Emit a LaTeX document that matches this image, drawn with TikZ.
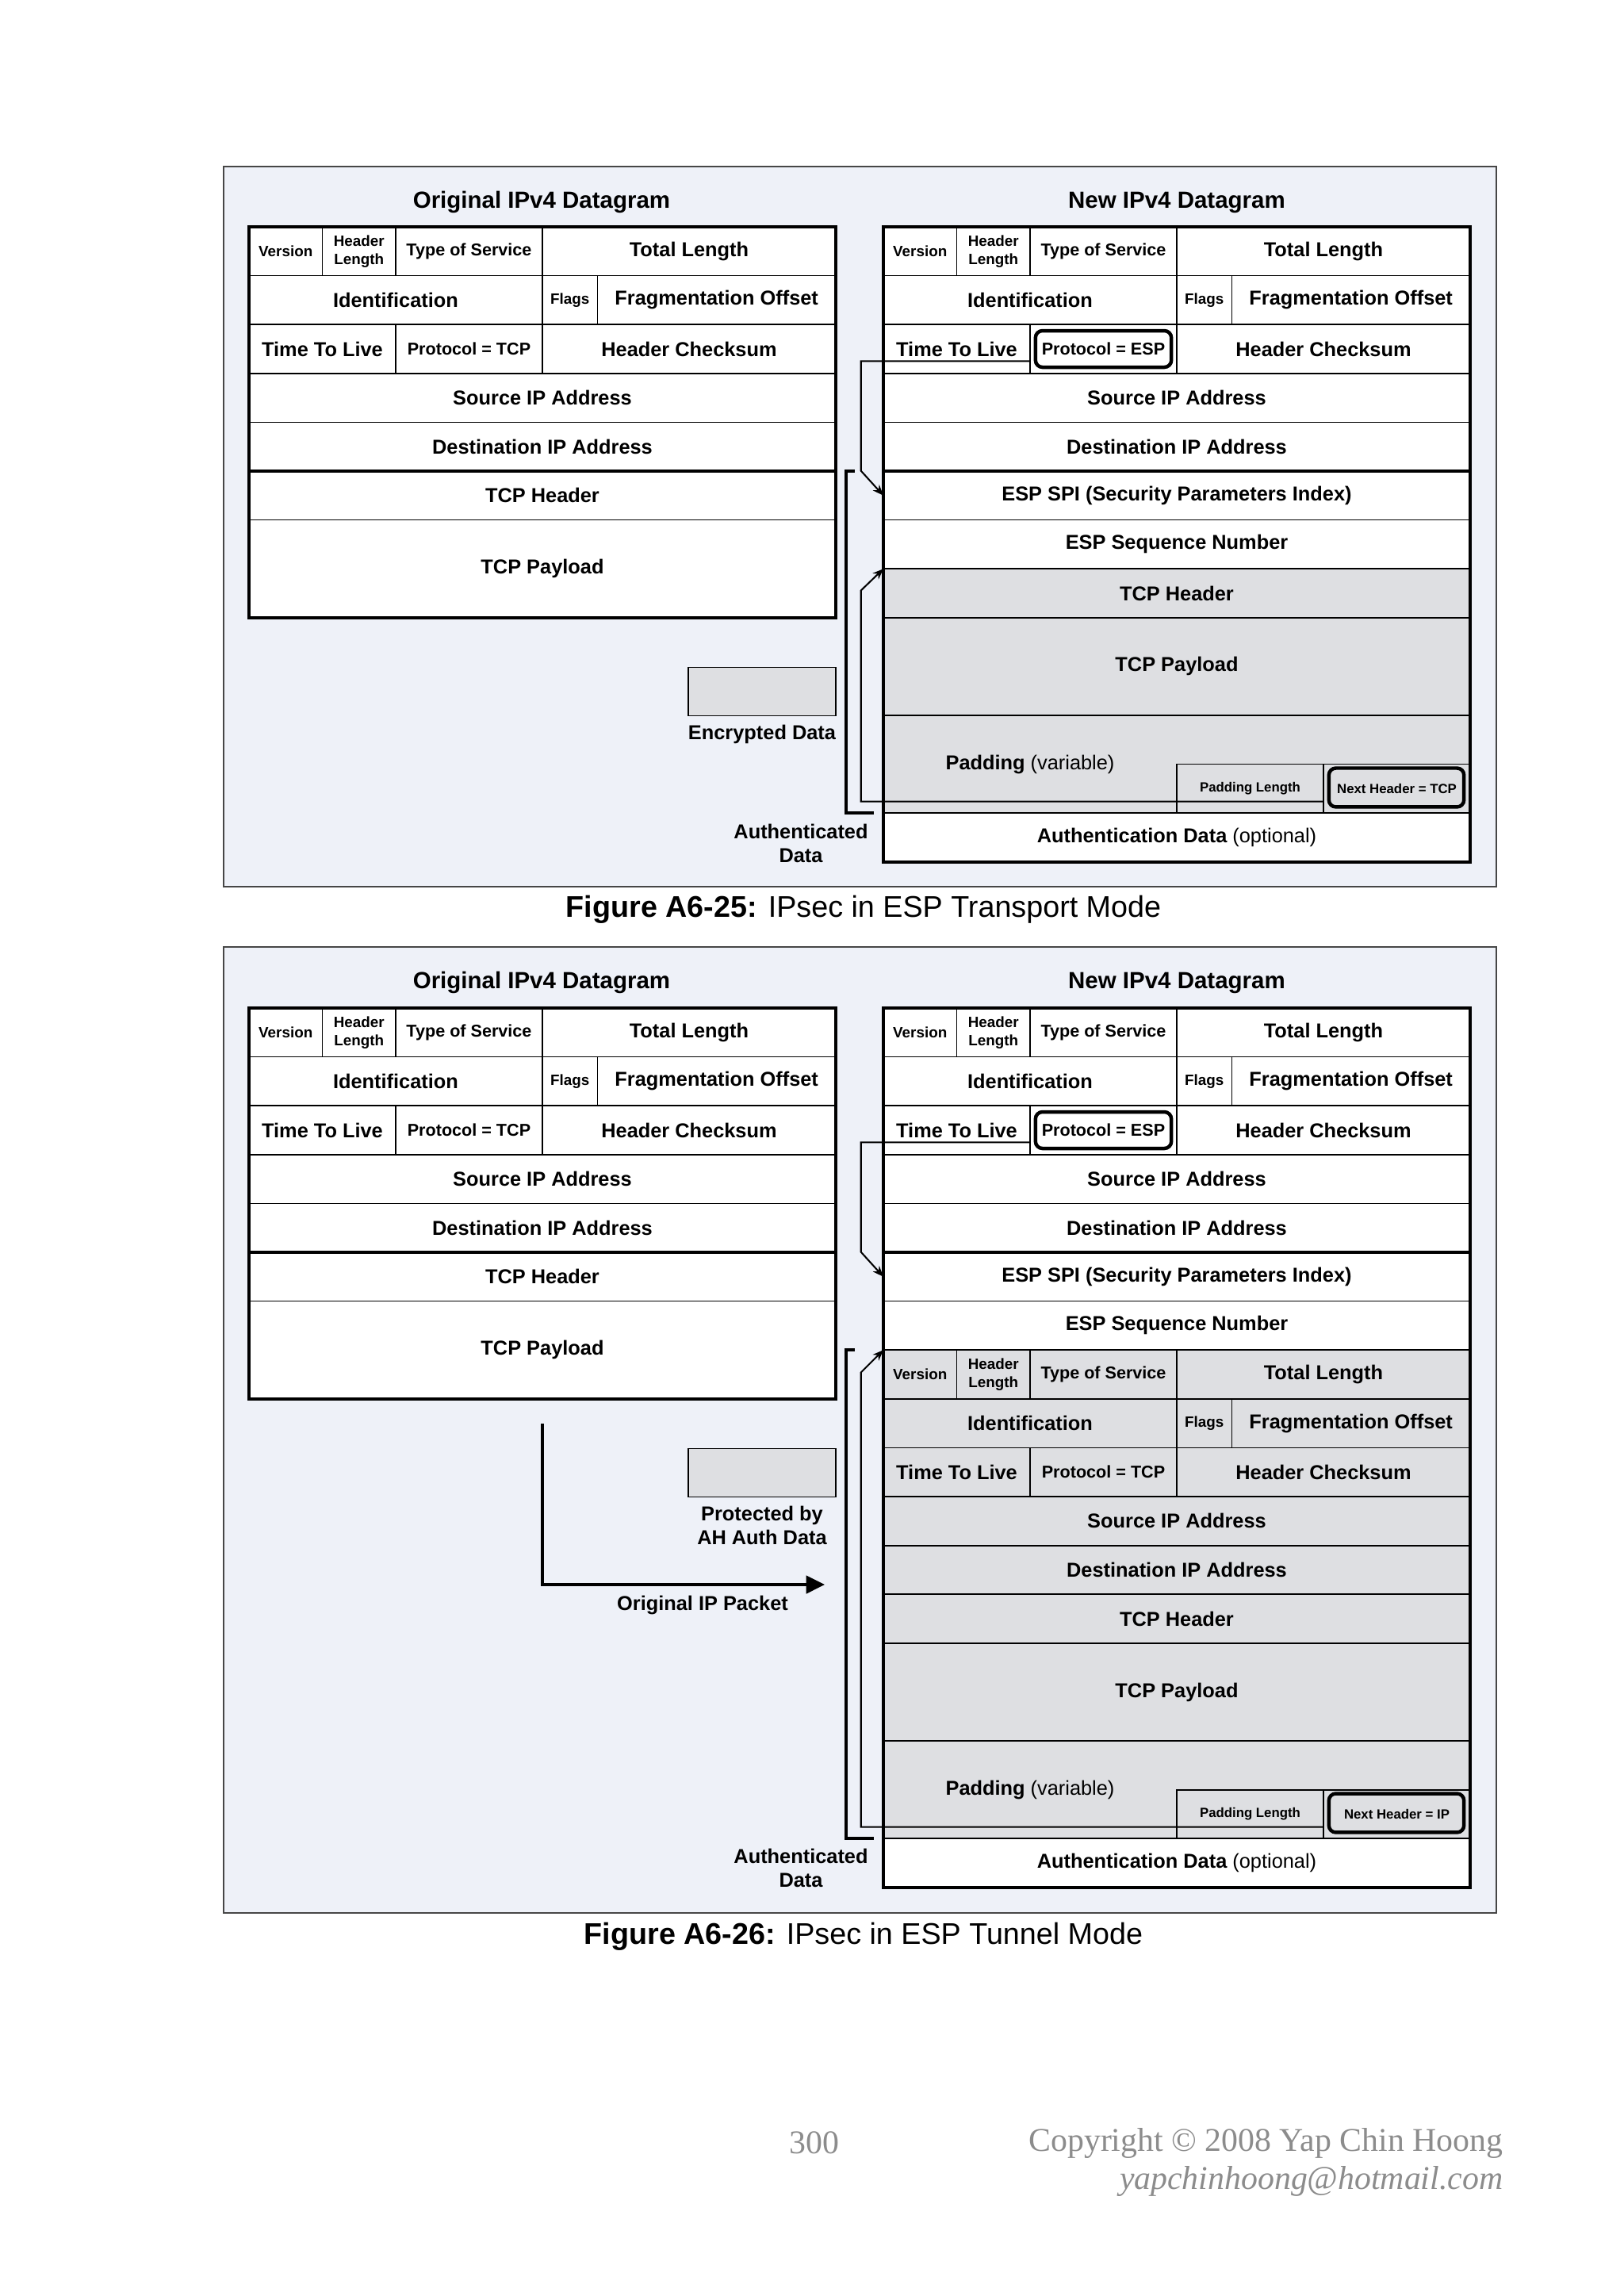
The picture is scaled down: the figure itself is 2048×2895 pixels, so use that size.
\documentclass[tikz,border=0pt]{standalone}
\usepackage{fontspec}
\setmainfont{Liberation Sans}
\newfontfamily\footfont{Liberation Serif}
\usetikzlibrary{arrows.meta,positioning,calc}

\definecolor{panelbg}{RGB}{238,241,248}
\definecolor{encgray}{RGB}{222,223,226}
\definecolor{footgray}{RGB}{140,140,140}
\definecolor{rulegray}{RGB}{70,70,70}

% one bit and one row of a header table
\newcommand{\bw}{2.3712mm}
\newcommand{\rh}{6.3165mm}

% field: [style]{name}{bit}{row}{bits}{rows}{text}
\newcommand{\fld}[7][]{\node[cell,#1,minimum width=#5*\bw,minimum height=#6*\rh] (#2) at (#3,#4) {#7};}

% IPv4 header: {prefix}{first row}{style}{protocol text}
\newcommand{\iphdr}[4]{%
  \fld[small,#3]{#1ver}{0}{#2}{4}{1}{Version}
  \fld[small,#3]{#1hl}{4}{#2}{4}{1}{Header\\Length}
  \fld[mid,#3]{#1tos}{8}{#2}{8}{1}{Type of Service}
  \fld[#3]{#1len}{16}{#2}{16}{1}{Total Length}
  \fld[#3]{#1id}{0}{#2+1}{16}{1}{Identification}
  \fld[small,#3]{#1flg}{16}{#2+1}{3}{1}{Flags}
  \fld[#3]{#1frag}{19}{#2+1}{13}{1}{Fragmentation Offset}
  \fld[#3]{#1ttl}{0}{#2+2}{8}{1}{Time To Live}
  \fld[mid,#3]{#1prot}{8}{#2+2}{8}{1}{#4}
  \fld[#3]{#1sum}{16}{#2+2}{16}{1}{Header Checksum}
  \fld[#3]{#1src}{0}{#2+3}{32}{1}{Source IP Address}
  \fld[#3]{#1dst}{0}{#2+4}{32}{1}{Destination IP Address}}

\begin{document}
\begin{tikzpicture}[
        x=0.10254mm, y=-0.10254mm,
        cell/.style={draw, fill=white, line width=0.5pt, inner sep=0pt, outer sep=0pt, anchor=north west, align=center, font=\fontsize{7.4}{8.8}\selectfont\bfseries},
        small/.style={font=\fontsize{5.5}{6.7}\selectfont\bfseries},
        mid/.style={font=\fontsize{6.3}{7.5}\selectfont\bfseries},
        tiny/.style={font=\fontsize{4.9}{5.9}\selectfont\bfseries},
        grayed/.style={fill=encgray},
        lbl/.style={inner sep=0pt, align=center, font=\fontsize{7.4}{8.8}\selectfont\bfseries},
        ttl/.style={inner sep=0pt, font=\fontsize{8.6}{10}\selectfont\bfseries},
        figcap/.style={inner sep=0pt, font=\fontsize{11}{13}\selectfont},
        legbox/.style={draw, line width=0.5pt, fill=encgray, minimum width=19.1mm, minimum height=6.25mm, inner sep=0pt},
        panel/.style={draw=rulegray, line width=0.5pt, fill=panelbg},
        thickrule/.style={line width=1.2pt},
        hilite/.style={line width=1.3pt, rounded corners=0.9mm},
        ptr/.style={-{Stealth[length=1.4mm,width=1.1mm]}, line width=0.6pt},
        authbrk/.style={line width=1.2pt},
        bigarr/.style={-{Triangle[length=2.4mm,width=2.3mm]}, line width=1pt},
        foot/.style={inner sep=0pt, text=footgray, font=\footfont\fontsize{12.2}{14}\selectfont}
    ]
    \useasboundingbox[fill=white] (0,0) rectangle (2048,2895);

    % ---------------- Figure A6-25: transport mode ----------------
    \draw[panel] (282,210) rectangle (1887,1118);
    \node[ttl] (totitle) at (683,255) {Original IPv4 Datagram};
    \node[ttl] (tntitle) at (1484,255) {New IPv4 Datagram};

    % original datagram
    \begin{scope}[shift={(314,286)}, x=\bw, y=-\rh]
        \iphdr{to}{0}{}{Protocol = TCP}
        \fld{totcp}{0}{5}{32}{1}{TCP Header}
        \fld{topay}{0}{6}{32}{2}{TCP Payload}
    \end{scope}
    \draw[thickrule] (tover.north west) rectangle (topay.south east);
    \draw[thickrule] (totcp.north west) -- (totcp.north east);

    % new datagram
    \begin{scope}[shift={(1114,286)}, x=\bw, y=-\rh]
        \iphdr{tn}{0}{}{Protocol = ESP}
        \fld{tnspi}{0}{5}{32}{1}{ESP SPI (Security Parameters Index)}
        \fld{tnseq}{0}{6}{32}{1}{ESP Sequence Number}
        \fld[grayed]{tntcp}{0}{7}{32}{1}{TCP Header}
        \fld[grayed]{tnpay}{0}{8}{32}{2}{TCP Payload}
        \fld[grayed]{tnpad}{0}{10}{32}{2}{}
        \node[lbl] (tnpadtxt) at (8,11) {Padding {\mdseries (variable)}};
        \fld[tiny,grayed]{tnplen}{16}{11}{8}{1}{Padding Length}
        \fld[tiny,grayed]{tnnxt}{24}{11}{8}{1}{Next Header = TCP}
        \fld{tnauth}{0}{12}{32}{1}{Authentication Data {\mdseries (optional)}}
    \end{scope}
    \draw[thickrule] (tnver.north west) rectangle (tnauth.south east);
    \draw[thickrule] (tnspi.north west) -- (tnspi.north east);
    \draw[hilite] ([shift={(0.7mm,-0.8mm)}]tnprot.north west) rectangle ([shift={(-0.7mm,0.8mm)}]tnprot.south east);
    \draw[hilite] ([shift={(0.7mm,-0.5mm)}]tnnxt.north west) rectangle ([shift={(-0.8mm,0.8mm)}]tnnxt.south east);

    % next header pointers
    \coordinate (tnA) at ($(tnttl.south east)!0.25!(tnttl.north east)$);
    \draw[ptr] (tnA) -| ([shift={(-2.9mm,3.2mm)}]tnspi.west) -- (tnspi.west);
    \draw[ptr] ([yshift=1.5mm]tnplen.south east) -| ([shift={(-2.9mm,-2.8mm)}]tntcp.north west) -- (tntcp.north west);
    \draw[authbrk] ([xshift=-3.7mm]tnspi.north west) -- ([xshift=-4.8mm]tnspi.north west) |- ([xshift=-1.2mm]tnpad.south west);

    % legend
    \node[legbox] (encbox) at (961,872) {};
    \node[lbl, below=1mm of encbox] (enclbl) {Encrypted Data};
    \node[lbl] (tauthlbl) at (1010,1063) {Authenticated\\Data};

    \node[figcap] (tcap) at (1089,1147) {\textbf{Figure A6-25:} IPsec in ESP Transport Mode};

    % ---------------- Figure A6-26: tunnel mode ----------------
    \draw[panel] (282,1194) rectangle (1887,2412);
    \node[ttl] (uotitle) at (683,1239) {Original IPv4 Datagram};
    \node[ttl] (untitle) at (1484,1239) {New IPv4 Datagram};

    % original datagram
    \begin{scope}[shift={(314,1271)}, x=\bw, y=-\rh]
        \iphdr{uo}{0}{}{Protocol = TCP}
        \fld{uotcp}{0}{5}{32}{1}{TCP Header}
        \fld{uopay}{0}{6}{32}{2}{TCP Payload}
    \end{scope}
    \draw[thickrule] (uover.north west) rectangle (uopay.south east);
    \draw[thickrule] (uotcp.north west) -- (uotcp.north east);

    % new datagram
    \begin{scope}[shift={(1114,1271)}, x=\bw, y=-\rh]
        \iphdr{un}{0}{}{Protocol = ESP}
        \fld{unspi}{0}{5}{32}{1}{ESP SPI (Security Parameters Index)}
        \fld{unseq}{0}{6}{32}{1}{ESP Sequence Number}
        \iphdr{ui}{7}{grayed}{Protocol = TCP}
        \fld[grayed]{untcp}{0}{12}{32}{1}{TCP Header}
        \fld[grayed]{unpay}{0}{13}{32}{2}{TCP Payload}
        \fld[grayed]{unpad}{0}{15}{32}{2}{}
        \node[lbl] (unpadtxt) at (8,16) {Padding {\mdseries (variable)}};
        \fld[tiny,grayed]{unplen}{16}{16}{8}{1}{Padding Length}
        \fld[tiny,grayed]{unnxt}{24}{16}{8}{1}{Next Header = IP}
        \fld{unauth}{0}{17}{32}{1}{Authentication Data {\mdseries (optional)}}
    \end{scope}
    \draw[thickrule] (unver.north west) rectangle (unauth.south east);
    \draw[thickrule] (unspi.north west) -- (unspi.north east);
    \draw[hilite] ([shift={(0.7mm,-0.8mm)}]unprot.north west) rectangle ([shift={(-0.7mm,0.8mm)}]unprot.south east);
    \draw[hilite] ([shift={(0.7mm,-0.5mm)}]unnxt.north west) rectangle ([shift={(-0.8mm,0.8mm)}]unnxt.south east);

    % next header pointers
    \coordinate (unA) at ($(unttl.south east)!0.25!(unttl.north east)$);
    \draw[ptr] (unA) -| ([shift={(-2.9mm,3.2mm)}]unspi.west) -- (unspi.west);
    \draw[ptr] ([yshift=1.5mm]unplen.south east) -| ([shift={(-2.9mm,-2.9mm)}]uiver.north west) -- (uiver.north west);
    \draw[authbrk] ([xshift=-3.7mm]uiver.north west) -- ([xshift=-4.8mm]uiver.north west) |- ([xshift=-1.2mm]unpad.south west);

    % original packet goes inside
    \coordinate (pktend) at (1040,1998);
    \draw[bigarr] ([yshift=-3.2mm]uopay.south) |- (pktend);
    \node[lbl] (pktlbl) at (886,2024) {Original IP Packet};

    % legend
    \node[legbox] (ahbox) at (961,1857) {};
    \node[lbl, below=1mm of ahbox] (ahlbl) {Protected by\\AH Auth Data};
    \node[lbl] (uauthlbl) at (1010,2355) {Authenticated\\Data};

    \node[figcap] (ucap) at (1089,2442) {\textbf{Figure A6-26:} IPsec in ESP Tunnel Mode};

    % page footer
    \node[foot] (pagenum) at (1027,2702) {300};
    \node[foot, anchor=east] (copy) at (1896,2702) {Copyright \textcopyright{} 2008 Yap Chin Hoong};
    \node[foot, anchor=east, font=\footfont\itshape\fontsize{12.2}{14}\selectfont] (mail) at (1896,2750) {yapchinhoong@hotmail.com};
\end{tikzpicture}
\end{document}
